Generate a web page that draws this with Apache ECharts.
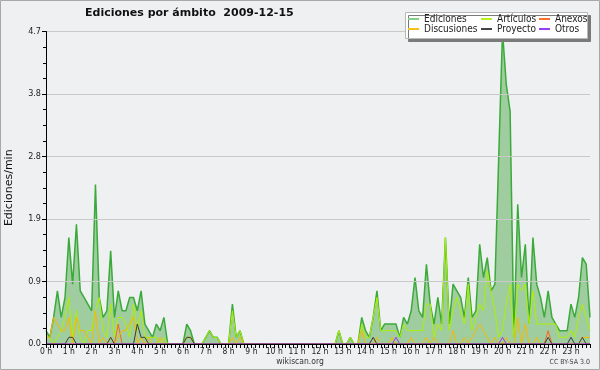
<!DOCTYPE html>
<html>
<head>
<meta charset="utf-8">
<script src="https://cdn.jsdelivr.net/npm/echarts@6/dist/echarts.min.js"></script>
<style>
html,body{margin:0;padding:0;background:#eff0f1;}
#chart{width:600px;height:370px;}
</style>
</head>
<body>
<div id="chart"></div>
<script>
// Hour tick labels (one per hour, every 6th 10‑minute slot)
const hourLabels = ['0 h','1 h','2 h','3 h','4 h','5 h','6 h','7 h','8 h','9 h','10 h','11 h',
  '12 h','13 h','14 h','15 h','16 h','17 h','18 h','19 h','20 h','21 h','22 h','23 h'];

// 10-minute slots of the day
const categories = [];
for (let h = 0; h < 24; h++) {
  for (let m = 0; m < 60; m += 10) categories.push(h + ':' + (m < 10 ? '0' + m : m));
}

// Edits per minute, 10-minute resolution (144 values each)
const ediciones = [
  0.2,0.1,0.4,0.8,0.4,0.7,1.6,0.9,1.8,0.8,0.7,0.6,
  0.5,2.4,0.7,0.4,0.5,1.4,0.4,0.8,0.5,0.5,0.7,0.7,
  0.5,0.8,0.3,0.2,0.1,0.3,0.2,0.4,0,0,0,0,
  0,0.3,0.2,0,0,0,0.1,0.2,0.1,0.1,0,0,
  0,0.6,0.1,0.2,0,0,0,0,0,0,0,0,
  0,0,0,0,0,0,0,0,0,0,0,0,
  0,0,0,0,0,0.2,0,0,0.1,0,0,0.4,
  0.2,0.1,0.4,0.8,0.2,0.3,0.3,0.3,0.3,0.1,0.4,0.3,
  0.5,1.0,0.5,0.4,1.2,0.6,0.3,0.7,0.3,1.6,0.3,0.9,
  0.8,0.7,0.4,1.0,0.4,0.5,1.5,1.0,1.3,0.8,0.9,2.8,
  4.7,3.9,3.5,0.1,2.1,1.0,1.5,0.3,1.6,0.9,0.7,0.4,
  0.8,0.4,0.3,0.2,0.2,0.2,0.6,0.4,0.7,1.3,1.2,0.4
];
const articulos = [
  0.1,0.1,0,0.1,0.2,0.4,0.7,0.1,0.5,0.1,0,0.2,
  0.2,0.5,0.7,0.2,0.1,0.6,0.1,0.4,0.4,0.3,0.1,0.6,
  0.2,0.5,0.1,0.1,0.1,0.1,0,0.1,0,0,0,0,
  0,0.1,0.1,0,0,0,0.1,0.2,0.1,0.1,0,0,
  0,0.5,0.1,0.2,0,0,0,0,0,0,0,0,
  0,0,0,0,0,0,0,0,0,0,0,0,
  0,0,0,0,0,0.2,0,0,0.1,0,0,0.3,
  0.1,0.1,0.4,0.7,0.2,0.2,0.2,0.2,0.2,0.1,0.3,0.2,
  0.2,0.2,0.2,0.2,0.6,0.6,0.1,0.3,0.2,1.6,0.2,0.5,
  0.7,0.5,0.3,0.9,0.2,0.4,0.6,0.5,1.1,0.8,0.5,0.1,
  0.2,0.6,0.9,0.1,0.9,0.8,0.9,0.3,0.8,0.3,0.3,0.3,
  0.3,0.3,0.3,0.1,0.1,0.1,0.2,0.1,0.4,0.6,0.4,0.2
];
const discusiones = [
  0.1,0.1,0.4,0.3,0.2,0.2,0.4,0,0.4,0.2,0.2,0.1,
  0,0.5,0,0.1,0,0.1,0,0.1,0.2,0.2,0.3,0.4,
  0,0.1,0,0.1,0,0,0.1,0,0,0,0,0,
  0,0.1,0.1,0,0,0,0,0,0,0,0,0,
  0,0.1,0,0.1,0,0,0,0,0,0,0,0,
  0,0,0,0,0,0,0,0,0,0,0,0,
  0,0,0,0,0,0,0,0,0,0,0,0.2,
  0,0,0,0.1,0,0,0,0.1,0,0,0,0,
  0.1,0,0,0,0.1,0,0.1,0,0,0,0,0.2,
  0,0,0.1,0,0.1,0.2,0.3,0.2,0.1,0,0.1,0,
  0,0.1,0,0,0.4,0,0.3,0,0,0.1,0,0,
  0,0,0,0,0,0,0,0,0,0.1,0.1,0.1
];
const anexos = [
  0,0,0,0,0,0,0,0,0,0,0,0,
  0,0,0,0,0,0,0,0.3,0,0,0,0,
  0,0,0,0,0,0,0,0,0,0,0,0,
  0,0,0,0,0,0,0,0,0,0,0,0,
  0,0,0,0,0,0,0,0,0,0,0,0,
  0,0,0,0,0,0,0,0,0,0,0,0,
  0,0,0,0,0,0,0,0,0,0,0,0,
  0,0,0,0,0,0,0,0,0,0,0,0,
  0,0,0,0,0,0,0,0,0,0,0,0,
  0,0,0,0,0,0,0,0,0,0,0,0,
  0,0,0,0,0,0,0,0,0,0,0,0,
  0.2,0,0,0,0,0,0,0,0,0,0,0
];
const proyecto = [
  0,0,0,0,0,0,0.1,0.1,0,0,0,0,
  0,0,0,0,0,0.1,0,0,0,0,0,0,
  0.3,0.1,0.1,0,0,0,0,0,0,0,0,0,
  0,0.1,0.1,0,0,0,0,0,0,0,0,0,
  0,0,0,0,0,0,0,0,0,0,0,0,
  0,0,0,0,0,0,0,0,0,0,0,0,
  0,0,0,0,0,0,0,0,0,0,0,0,
  0,0,0.1,0,0,0,0,0,0,0,0,0,
  0,0,0,0,0,0,0,0,0,0,0,0,
  0,0,0,0,0,0,0,0,0,0,0,0,
  0,0,0,0,0,0,0,0,0,0,0,0,
  0.1,0,0,0,0,0,0.1,0,0,0.1,0,0
];
const otros = [
  0,0,0,0,0,0,0,0,0,0,0,0,
  0,0,0,0,0,0,0,0,0,0,0,0,
  0,0,0,0,0,0,0,0,0,0,0,0,
  0,0,0,0,0,0,0,0,0,0,0,0,
  0,0,0,0,0,0,0,0,0,0,0,0,
  0,0,0,0,0,0,0,0,0,0,0,0,
  0,0,0,0,0,0,0,0,0,0,0,0,
  0,0,0,0,0,0,0,0,0.1,0,0,0,
  0,0,0,0,0,0,0,0,0,0,0,0,
  0,0,0,0,0,0,0,0,0,0,0,0,
  0.1,0,0,0,0,0,0,0,0,0,0,0,
  0,0,0,0,0,0,0,0,0,0,0,0
];

const FONT = 'DejaVu Sans Condensed, DejaVu Sans, sans-serif';

function lineSeries(name, data, color, z) {
  return {
    name: name, type: 'line', data: data, symbol: 'none', showSymbol: false,
    lineStyle: { color: color, width: 1 }, itemStyle: { color: color },
    z: z, silent: true, animation: false
  };
}

const legendBase = {
  orient: 'vertical', top: 14, padding: 0, itemWidth: 11, itemHeight: 2, itemGap: 0,
  icon: 'rect', selectedMode: false, z: 12,
  textStyle: { fontFamily: FONT, fontSize: 10, color: '#222', lineHeight: 10 }
};
function legendItem(name, color) {
  return { name: name, icon: 'rect', itemStyle: { color: color, borderWidth: 0, opacity: 1 } };
}

const chart = echarts.init(document.getElementById('chart'), null, { renderer: 'canvas' });
chart.setOption({
  backgroundColor: '#eff0f1',
  animation: false,
  title: {
    text: 'Ediciones por ámbito  2009-12-15',
    left: 85, top: 8, padding: 0,
    textStyle: { fontFamily: 'DejaVu Sans, sans-serif', fontSize: 11, fontWeight: 'bold', color: '#111' }
  },
  legend: [
    Object.assign({}, legendBase, { left: 408, data: [
      legendItem('Ediciones', '#86cf86'), legendItem('Discusiones', '#f7c020') ] }),
    Object.assign({}, legendBase, { left: 481, data: [
      legendItem('Artículos', '#b8f020'), legendItem('Proyecto', '#444444') ] }),
    Object.assign({}, legendBase, { left: 539, data: [
      legendItem('Anexos', '#ff7030'), legendItem('Otros', '#9a40ee') ] })
  ],
  grid: { left: 46, right: 10, top: 31.5, bottom: 26, outerBoundsMode: 'none' },
  xAxis: {
    type: 'category', data: categories, boundaryGap: false, z: 9,
    axisLine: { lineStyle: { color: '#000', width: 1 } },
    axisTick: { interval: 0, length: 4, lineStyle: { color: '#000' } },
    axisLabel: {
      interval: 5, margin: 3, fontFamily: FONT, fontSize: 8.5, color: '#222',
      formatter: function (v, idx) { return hourLabels[Math.round(idx / 6)]; }
    },
    splitLine: { show: false }
  },
  yAxis: {
    type: 'value', min: 0, max: 4.7, interval: 0.94, z: 9,
    name: 'Ediciones/min', nameLocation: 'middle', nameRotate: 90, nameGap: 31,
    nameTextStyle: { fontFamily: 'DejaVu Sans, sans-serif', fontSize: 11, color: '#111' },
    axisLine: { show: true, lineStyle: { color: '#000', width: 1 } },
    axisTick: { show: true, length: 4, lineStyle: { color: '#000' } },
    minorTick: { show: true, splitNumber: 4, length: 3, lineStyle: { color: '#000' } },
    axisLabel: { margin: 5, fontFamily: FONT, fontSize: 9, color: '#222',
      formatter: function (v) { return v.toFixed(1); } },
    splitLine: { show: true, lineStyle: { color: '#c9c9c9', width: 1 } }
  },
  series: [
    {
      name: 'Ediciones', type: 'line', data: ediciones, symbol: 'none', showSymbol: false,
      lineStyle: { color: '#3aaa3a', width: 1.5 }, itemStyle: { color: '#3aaa3a' },
      areaStyle: { color: '#9fcd9f', opacity: 1 }, z: 2, silent: true
    },
    lineSeries('Artículos', articulos, '#aef000', 3),
    lineSeries('Anexos', anexos, '#ff6020', 4),
    lineSeries('Discusiones', discusiones, '#f7b900', 5),
    lineSeries('Proyecto', proyecto, '#3a3a3a', 6),
    lineSeries('Otros', otros, '#9a35ee', 7)
  ],
  graphic: [
    { type: 'rect', z: 10, silent: true,
      shape: { x: 405.5, y: 12.5, width: 182, height: 26 },
      style: { fill: '#ffffff', stroke: '#b8b8b8', lineWidth: 1,
        shadowColor: '#7a7a7a', shadowOffsetX: 3, shadowOffsetY: 3, shadowBlur: 0 } },
    { type: 'rect', z: 100, silent: true,
      shape: { x: 0.5, y: 0.5, width: 599, height: 369 },
      style: { fill: 'none', stroke: '#a8a8a8', lineWidth: 1 } },
    { type: 'text', z: 10, silent: true, left: 'center', top: 357,
      style: { text: 'wikiscan.org', font: '8.5px ' + FONT, fill: '#333' } },
    { type: 'text', z: 10, silent: true, right: 10, top: 359,
      style: { text: 'CC BY-SA 3.0', font: '7px ' + FONT, fill: '#444' } }
  ]
});
</script>
</body>
</html>
